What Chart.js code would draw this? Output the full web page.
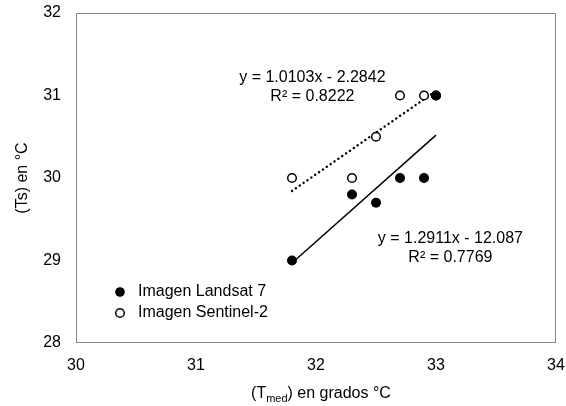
<!DOCTYPE html>
<html lang="es">
<head>
  <meta charset="UTF-8" />
  <title>Ts vs Tmed</title>
  <script src="https://cdn.jsdelivr.net/npm/chart.js"></script>
  <style>
    body { margin: 0; background: #fff; }
    canvas { display: block; }
  </style>
</head>
<body>
  <canvas id="grafico" width="566" height="406"></canvas>
  <script>
    // datos
    const tmedLandsat = [31.8, 32.3, 32.5, 32.7, 32.9, 33.0];
    const tsLandsat = [29.0, 29.8, 29.7, 30.0, 30.0, 31.0];
    const tmedSentinel = [31.8, 32.3, 32.5, 32.7, 32.9, 33.0];
    const tsSentinel = [30.0, 30.0, 30.5, 31.0, 31.0, 31.0];
    const nombres = ['Imagen Landsat 7', 'Imagen Sentinel-2'];
    const pendientes = [1.2911, 1.0103];
    const intercepts = [-12.087, -2.2842];
    const r2 = [0.7769, 0.8222];
    const xTicks = [30, 31, 32, 33, 34];
    const yTicks = [28, 29, 30, 31, 32];

    const FUENTE = "'Liberation Sans', Arial, sans-serif";

    function puntos(xs, ys) { return xs.map((x, i) => ({ x: x, y: ys[i] })); }
    function tendencia(xs, k) {
      const a = Math.min(...xs), b = Math.max(...xs);
      return [a, b].map(x => ({ x: x, y: pendientes[k] * x + intercepts[k] }));
    }
    function ecuacion(k) {
      const s = intercepts[k] < 0 ? ' - ' : ' + ';
      return 'y = ' + pendientes[k] + 'x' + s + Math.abs(intercepts[k]);
    }

    // posicion de las etiquetas en unidades del eje
    const etiquetas = [
      { k: 0, x: 33.12, y: 29.27 },
      { k: 1, x: 31.97, y: 31.22 }
    ];

    const extras = {
      id: 'extras',
      beforeDatasetsDraw(chart) {
        const { ctx, chartArea: a } = chart;
        ctx.save();
        ctx.strokeStyle = '#868686';
        ctx.lineWidth = 1;
        ctx.strokeRect(a.left + 0.5, a.top + 0.5, a.right - a.left - 1, a.bottom - a.top - 1);
        ctx.restore();
      },
      afterDatasetsDraw(chart) {
        const { ctx, scales: { x, y } } = chart;
        ctx.save();
        ctx.fillStyle = '#000';
        ctx.font = '16px ' + FUENTE;
        ctx.textAlign = 'center';
        ctx.textBaseline = 'middle';
        etiquetas.forEach(e => {
          const px = x.getPixelForValue(e.x), py = y.getPixelForValue(e.y);
          ctx.fillText(ecuacion(e.k), px, py);
          ctx.fillText('R² = ' + r2[e.k], px, py + 19);
        });

        // leyenda
        ctx.textAlign = 'left';
        const ly = [292, 313];
        ly.forEach((yy, i) => {
          ctx.beginPath();
          ctx.arc(120, yy, i === 0 ? 4.8 : 4.3, 0, Math.PI * 2);
          if (i === 0) { ctx.fillStyle = '#000'; ctx.fill(); }
          else { ctx.fillStyle = '#fff'; ctx.fill(); ctx.lineWidth = 1.5; ctx.strokeStyle = '#000'; ctx.stroke(); }
          ctx.fillStyle = '#000';
          ctx.fillText(nombres[i], 138, yy);
        });

        // titulo eje x con subindice
        ctx.textBaseline = 'alphabetic';
        const f1 = '16px ' + FUENTE, f2 = '11px ' + FUENTE;
        const p1 = '(T', p2 = 'med', p3 = ') en grados °C';
        ctx.font = f1; const w1 = ctx.measureText(p1).width, w3 = ctx.measureText(p3).width;
        ctx.font = f2; const w2 = ctx.measureText(p2).width;
        let sx = 321 - (w1 + w2 + w3) / 2;
        const base = 398;
        ctx.font = f1; ctx.fillText(p1, sx, base); sx += w1;
        ctx.font = f2; ctx.fillText(p2, sx, base + 4); sx += w2;
        ctx.font = f1; ctx.fillText(p3, sx, base);
        ctx.restore();
      }
    };

    new Chart(document.getElementById('grafico').getContext('2d'), {
      type: 'scatter',
      data: {
        datasets: [
          {
            label: nombres[0],
            data: puntos(tmedLandsat, tsLandsat),
            pointRadius: 5,
            pointBackgroundColor: '#000',
            pointBorderColor: '#000',
            pointBorderWidth: 0,
            showLine: false
          },
          {
            label: nombres[1],
            data: puntos(tmedSentinel, tsSentinel),
            pointRadius: 4.3,
            pointBackgroundColor: '#fff',
            pointBorderColor: '#000',
            pointBorderWidth: 1.5,
            showLine: false
          },
          {
            label: 'Lineal (Landsat)',
            data: tendencia(tmedLandsat, 0),
            showLine: true,
            borderColor: '#000',
            borderWidth: 1.5,
            pointRadius: 0
          },
          {
            label: 'Lineal (Sentinel)',
            data: tendencia(tmedSentinel, 1),
            showLine: true,
            borderColor: '#000',
            borderWidth: 2.4,
            borderCapStyle: 'round',
            borderDash: [0.1, 4.6],
            pointRadius: 0
          }
        ]
      },
      options: {
        responsive: false,
        animation: false,
        layout: { padding: { left: 0, right: 10, top: 13, bottom: 0 } },
        plugins: { legend: { display: false }, tooltip: { enabled: false } },
        scales: {
          x: {
            type: 'linear',
            min: xTicks[0], max: xTicks[xTicks.length - 1],
            afterFit: s => { s.height = 63; s.paddingLeft = 0; s.paddingRight = 0; },
            afterBuildTicks: s => { s.ticks = xTicks.map(v => ({ value: v })); },
            grid: { display: false, drawTicks: false },
            border: { display: false },
            ticks: { color: '#000', font: { family: FUENTE, size: 16 }, padding: 13 }
          },
          y: {
            type: 'linear',
            min: yTicks[0], max: yTicks[yTicks.length - 1],
            afterFit: s => { s.width = 76; s.paddingTop = 0; s.paddingBottom = 0; },
            afterBuildTicks: s => { s.ticks = yTicks.map(v => ({ value: v })); },
            grid: { display: false, drawTicks: false },
            border: { display: false },
            ticks: { color: '#000', font: { family: FUENTE, size: 16 }, padding: 15 },
            title: {
              display: true,
              text: '(Ts) en °C',
              color: '#000',
              font: { family: FUENTE, size: 16 },
              padding: { top: 13, bottom: 0 }
            }
          }
        }
      },
      plugins: [extras]
    });
  </script>
</body>
</html>
